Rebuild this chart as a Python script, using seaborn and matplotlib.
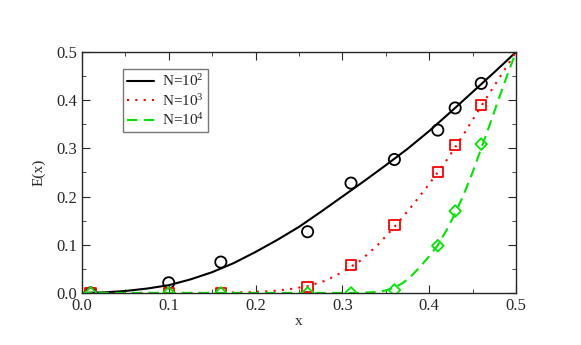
import numpy as np
import pandas as pd
import seaborn as sns
import matplotlib
matplotlib.use("Agg")
import matplotlib.pyplot as plt
from matplotlib.ticker import MultipleLocator

# simulation points (same x grid for all three N)
x_pts = [0.01, 0.10, 0.16, 0.26, 0.31, 0.36, 0.41, 0.43, 0.46]
e_n2 = [0.0, 0.021, 0.064, 0.127, 0.228, 0.277, 0.338, 0.384, 0.435]
e_n3 = [0.0, 0.0, 0.0, 0.012, 0.058, 0.141, 0.251, 0.307, 0.390]
e_n4 = [0.0, 0.0, 0.0, 0.0, 0.0, 0.006, 0.098, 0.170, 0.309]

# theory curves
x_c2 = [0.0, 0.025, 0.05, 0.075, 0.1, 0.125, 0.15, 0.175, 0.2, 0.225, 0.25,
        0.275, 0.3, 0.325, 0.35, 0.375, 0.4, 0.425, 0.45, 0.475, 0.5]
y_c2 = [0.0, 0.001, 0.004, 0.009, 0.016, 0.028, 0.043, 0.062, 0.085, 0.110, 0.137,
        0.168, 0.200, 0.232, 0.265, 0.299, 0.336, 0.376, 0.417, 0.458, 0.5]
x_c3 = [0.0, 0.15, 0.18, 0.2, 0.22, 0.24, 0.26, 0.28, 0.3, 0.32, 0.34, 0.36,
        0.38, 0.4, 0.42, 0.44, 0.46, 0.48, 0.5]
y_c3 = [0.0, 0.0, 0.001, 0.002, 0.004, 0.008, 0.014, 0.025, 0.043, 0.066, 0.098, 0.137,
        0.180, 0.226, 0.275, 0.330, 0.388, 0.444, 0.5]
x_c4 = [0.0, 0.3, 0.32, 0.34, 0.35, 0.36, 0.37, 0.38, 0.39, 0.4, 0.41, 0.42,
        0.43, 0.44, 0.45, 0.46, 0.47, 0.48, 0.49, 0.5]
y_c4 = [0.0, 0.0, 0.0, 0.002, 0.005, 0.011, 0.021, 0.036, 0.055, 0.076, 0.099, 0.130,
        0.165, 0.205, 0.250, 0.300, 0.350, 0.402, 0.452, 0.5]

labels = [r"N=10$^2$", r"N=10$^3$", r"N=10$^4$"]
colors = ["black", "#ff0000", "#00e600"]

sns.set_style("ticks")
plt.rcParams["font.family"] = ["Liberation Serif", "DejaVu Serif"]
plt.rcParams["mathtext.fontset"] = "custom"
plt.rcParams["mathtext.rm"] = "Liberation Serif"
plt.rcParams["mathtext.it"] = "Liberation Serif:italic"

fig = plt.figure(figsize=(5.81, 3.45), dpi=100)
ax = fig.add_axes([0.141, 0.151, 0.747, 0.698])

curves = [(x_c2, y_c2, "-"), (x_c3, y_c3, (0, (1, 3))), (x_c4, y_c4, (0, (5, 3)))]
for (xc, yc, ls), lab, col in zip(curves, labels, colors):
    df = pd.DataFrame({"x": xc, "E": yc})
    sns.lineplot(data=df, x="x", y="E", ax=ax, color=col, linestyle=ls,
                 linewidth=1.5, label=lab, sort=False)

pts = pd.DataFrame({"x": x_pts * 3, "E": e_n2 + e_n3 + e_n4,
                    "N": ["2"] * 9 + ["3"] * 9 + ["4"] * 9})
for n, mk, col, ms in [("2", "o", colors[0], 65), ("3", "s", colors[1], 55),
                       ("4", "D", colors[2], 35)]:
    sub = pts[pts["N"] == n]
    sns.scatterplot(data=sub, x="x", y="E", ax=ax, marker=mk, s=ms,
                    facecolors="none", edgecolor=col, linewidth=1.3,
                    legend=False, zorder=3)

ax.set_xlim(0, 0.5)
ax.set_ylim(0, 0.5)
ax.xaxis.set_major_locator(MultipleLocator(0.1))
ax.xaxis.set_minor_locator(MultipleLocator(0.05))
ax.yaxis.set_major_locator(MultipleLocator(0.1))
ax.yaxis.set_minor_locator(MultipleLocator(0.05))
ax.tick_params(which="both", direction="in", top=True, right=True, labelsize=12)
ax.tick_params(which="major", length=6)
ax.tick_params(which="minor", length=3)
for sp in ax.spines.values():
    sp.set_visible(True)
    sp.set_linewidth(1.0)
ax.set_xlabel("x", fontsize=11, labelpad=1)
ax.set_ylabel("E(x)", fontsize=11, labelpad=8)

leg = ax.legend(loc="upper left", bbox_to_anchor=(0.094, 0.929), fontsize=11,
                frameon=True, fancybox=False, edgecolor="#555555",
                handlelength=1.8, handletextpad=0.5, labelspacing=0.25,
                borderpad=0.25, borderaxespad=0)
leg.get_frame().set_linewidth(1.0)

fig.savefig("out.png", dpi=100)
